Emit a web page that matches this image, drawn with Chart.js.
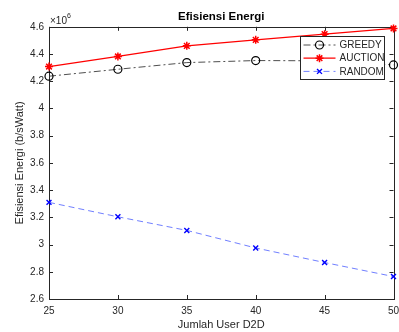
<!DOCTYPE html>
<html>
<head>
<meta charset="utf-8">
<script src="https://cdn.jsdelivr.net/npm/chart.js@4/dist/chart.umd.min.js"></script>
<style>
  html, body { margin: 0; padding: 0; background: #fff; }
  #wrap { width: 399px; height: 332px; }
</style>
</head>
<body>
<div id="wrap"><canvas id="chart" width="399" height="332"></canvas></div>
<script>
// Jumlah User D2D on the x axis
const users = [25, 30, 35, 40, 45, 50];
// energy efficiency, b/sWatt
const greedy = [4.237e6, 4.288e6, 4.337e6, 4.352e6, 4.350e6, 4.320e6];
const auction = [4.308e6, 4.382e6, 4.460e6, 4.504e6, 4.546e6, 4.588e6];
const random = [3.310e6, 3.204e6, 3.104e6, 2.975e6, 2.868e6, 2.765e6];
const seriesNames = ['GREEDY', 'AUCTION', 'RANDOM'];

const FONT = '"Liberation Sans", Arial, sans-serif';
const AXIS = '#262626';

function toPoints(vals) {
    return users.map((u, i) => ({ x: u, y: vals[i] }));
}

// box, inward ticks, exponent label and legend, drawn MATLAB style
const matlabAxes = {
    id: 'matlabAxes',
    beforeDatasetsDraw(chart) {
        const { ctx, chartArea: a, scales: { x, y } } = chart;
        ctx.save();
        ctx.strokeStyle = AXIS;
        ctx.lineWidth = 1;
        ctx.strokeRect(Math.round(a.left) + 0.5, Math.round(a.top) + 0.5,
            Math.round(a.right - a.left), Math.round(a.bottom - a.top));
        ctx.beginPath();
        x.ticks.forEach(t => {
            const px = Math.round(x.getPixelForValue(t.value)) + 0.5;
            ctx.moveTo(px, a.bottom); ctx.lineTo(px, a.bottom - 4);
            ctx.moveTo(px, a.top); ctx.lineTo(px, a.top + 4);
        });
        y.ticks.forEach(t => {
            const py = Math.round(y.getPixelForValue(t.value)) + 0.5;
            ctx.moveTo(a.left, py); ctx.lineTo(a.left + 4, py);
            ctx.moveTo(a.right, py); ctx.lineTo(a.right - 4, py);
        });
        ctx.stroke();

        // x10^6 exponent
        ctx.fillStyle = AXIS;
        ctx.textBaseline = 'alphabetic';
        ctx.font = '10px ' + FONT;
        ctx.fillText('\u00d710', a.left + 1, a.top - 3);
        const w = ctx.measureText('\u00d710').width;
        ctx.font = '7px ' + FONT;
        ctx.fillText('6', a.left + 1 + w, a.top - 9);
        ctx.restore();
    },
    afterDraw(chart) {
        const { ctx, chartArea: a } = chart;
        const bw = 84, bh = 43;
        const bx = Math.round(a.right - 10 - bw) + 0.5;
        const by = Math.round(a.top + 9) + 0.5;
        ctx.save();
        ctx.fillStyle = '#fff';
        ctx.fillRect(bx, by, bw, bh);
        ctx.strokeStyle = '#262626';
        ctx.lineWidth = 1;
        ctx.strokeRect(bx, by, bw, bh);
        chart.data.datasets.forEach((ds, i) => {
            const cy = by + 8.5 + i * 13.2;
            ctx.save();
            ctx.strokeStyle = ds.borderColor;
            ctx.lineWidth = ds.borderWidth;
            ctx.setLineDash(ds.borderDash || []);
            ctx.beginPath();
            ctx.moveTo(bx + 3, cy); ctx.lineTo(bx + 35, cy);
            ctx.stroke();
            ctx.restore();
            ctx.save();
            ctx.strokeStyle = ds.pointBorderColor;
            ctx.fillStyle = ds.pointBackgroundColor;
            ctx.lineWidth = ds.pointBorderWidth;
            Chart.helpers.drawPoint(ctx, {
                pointStyle: ds.pointStyle,
                radius: ds.pointRadius,
                borderWidth: ds.pointBorderWidth,
                rotation: 0
            }, bx + 19, cy);
            ctx.restore();
            ctx.fillStyle = AXIS;
            ctx.font = '10px ' + FONT;
            ctx.textBaseline = 'middle';
            ctx.fillText(seriesNames[i], bx + 39, cy + 0.5);
        });
        ctx.restore();
    }
};

function fixWidth(w) {
    return s => { s.width = w; s.paddingTop = 0; s.paddingBottom = 0; };
}
function fixHeight(h) {
    return s => { s.height = h; s.paddingLeft = 0; s.paddingRight = 0; };
}

const ctx = document.getElementById('chart').getContext('2d');
const chart = new Chart(ctx, {
    type: 'line',
    data: {
        datasets: [{
            label: seriesNames[0],
            data: toPoints(greedy),
            borderColor: '#3a3a3a',
            borderWidth: 0.9,
            borderDash: [7, 3, 2, 3],
            pointStyle: 'circle',
            pointRadius: 4,
            pointBorderWidth: 1.2,
            pointBorderColor: '#000',
            pointBackgroundColor: 'rgba(0,0,0,0)',
            fill: false
        }, {
            label: seriesNames[1],
            data: toPoints(auction),
            borderColor: '#ff0000',
            borderWidth: 1.3,
            pointStyle: 'star',
            pointRadius: 4,
            pointBorderWidth: 1.5,
            pointBorderColor: '#ff0000',
            pointBackgroundColor: '#ff0000',
            fill: false
        }, {
            label: seriesNames[2],
            data: toPoints(random),
            borderColor: '#6070ff',
            borderWidth: 0.9,
            borderDash: [6, 4],
            pointStyle: 'crossRot',
            pointRadius: 3.5,
            pointBorderWidth: 1.4,
            pointBorderColor: '#0000ff',
            pointBackgroundColor: '#0000ff',
            fill: false
        }]
    },
    options: {
        responsive: false,
        animation: false,
        clip: false,
        layout: { padding: { left: 0, right: 4, top: 0, bottom: 0 } },
        plugins: {
            legend: { display: false },
            tooltip: { enabled: false },
            title: {
                display: true,
                text: 'Efisiensi Energi',
                fullSize: false,
                color: '#000',
                font: { family: FONT, size: 11.5, weight: 'bold' },
                padding: { top: 10, bottom: 3 }
            }
        },
        scales: {
            x: {
                type: 'linear',
                min: 25,
                max: 50,
                grid: { display: false, drawTicks: false },
                border: { display: false },
                ticks: {
                    stepSize: 5,
                    padding: 6,
                    color: AXIS,
                    maxRotation: 0,
                    font: { family: FONT, size: 10 }
                },
                title: {
                    display: true,
                    text: 'Jumlah User D2D',
                    color: AXIS,
                    font: { family: FONT, size: 11 },
                    padding: { top: 0, bottom: 0 }
                },
                afterFit: fixHeight(33)
            },
            y: {
                min: 2.6e6,
                max: 4.6e6,
                grid: { display: false, drawTicks: false },
                border: { display: false },
                ticks: {
                    stepSize: 2e5,
                    padding: 5,
                    color: AXIS,
                    font: { family: FONT, size: 10 },
                    callback: v => String(+(v / 1e6).toFixed(1))
                },
                title: {
                    display: true,
                    text: 'Efisiensi Energi (b/sWatt)',
                    color: AXIS,
                    font: { family: FONT, size: 11 },
                    padding: { top: 13, bottom: 0 }
                },
                afterFit: fixWidth(49)
            }
        }
    },
    plugins: [matlabAxes]
});
</script>
</body>
</html>
